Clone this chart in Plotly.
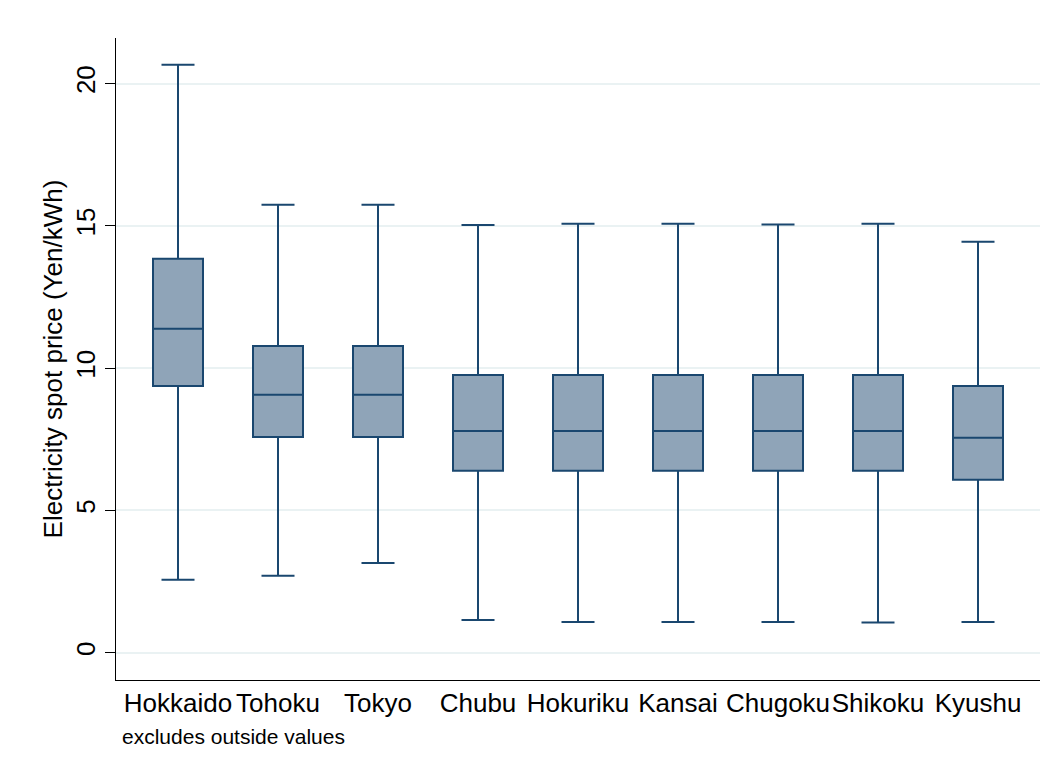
import plotly.graph_objects as go

regions = ["Hokkaido", "Tohoku", "Tokyo", "Chubu", "Hokuriku", "Kansai", "Chugoku", "Shikoku", "Kyushu"]
lower_whisker = [2.56, 2.70, 3.15, 1.15, 1.08, 1.08, 1.08, 1.06, 1.08]
q1_vals = [9.37, 7.58, 7.58, 6.39, 6.39, 6.39, 6.39, 6.39, 6.08]
median_vals = [11.38, 9.06, 9.06, 7.79, 7.79, 7.79, 7.79, 7.79, 7.55]
q3_vals = [13.84, 10.78, 10.78, 9.76, 9.76, 9.76, 9.76, 9.76, 9.37]
upper_whisker = [20.66, 15.74, 15.74, 15.03, 15.07, 15.07, 15.05, 15.07, 14.44]
y_ticks = [0, 5, 10, 15, 20]

navy = "#1A476F"
fill = "#8FA4B8"

fig = go.Figure()
fig.add_trace(go.Box(
    x=regions,
    q1=q1_vals, median=median_vals, q3=q3_vals,
    lowerfence=lower_whisker, upperfence=upper_whisker,
    fillcolor=fill,
    line=dict(color=navy, width=2),
    width=0.5,
    whiskerwidth=0.66,
    boxpoints=False,
    showlegend=False,
    hoverinfo="skip",
))

fig.update_layout(
    width=1056, height=772,
    margin=dict(l=116, r=16, t=38, b=92),
    paper_bgcolor="white", plot_bgcolor="white",
    font=dict(family="Liberation Sans, Arial, sans-serif", color="black"),
    xaxis=dict(
        type="category",
        categoryorder="array", categoryarray=regions,
        range=[-0.62, 8.62],
        automargin=False,
        showgrid=False, zeroline=False,
        showline=True, linecolor="black", linewidth=1,
        ticks="", tickangle=0,
        tickfont=dict(size=26, color="black"),
    ),
    yaxis=dict(
        range=[-0.96, 21.6],
        tickvals=y_ticks,
        automargin=False,
        showgrid=True, gridcolor="#EAF2F3", gridwidth=2,
        zeroline=False,
        showline=True, linecolor="black", linewidth=1,
        ticks="outside", ticklen=10, tickcolor="black",
        tickangle=-90,
        tickfont=dict(size=26, color="black"),
        title=dict(text="Electricity spot price (Yen/kWh)", font=dict(size=26, color="black"), standoff=0),
    ),
    annotations=[dict(
        text="excludes outside values",
        xref="paper", yref="paper",
        x=0.004, y=-0.067, xanchor="left", yanchor="top",
        showarrow=False, font=dict(size=21, color="black"),
    )],
)

fig.write_html("out.html")
